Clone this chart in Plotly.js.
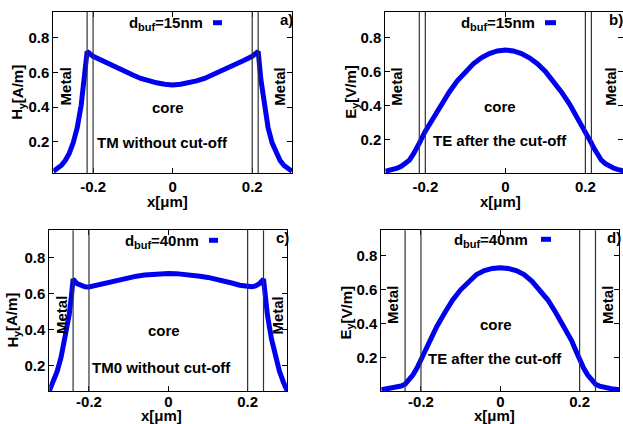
<!DOCTYPE html>
<html><head><meta charset="utf-8">
<script src="https://cdn.plot.ly/plotly-3.0.1.min.js"></script>
<style>html,body{margin:0;padding:0;background:#fff}#plot{width:623px;height:424px}</style>
</head><body><div id="plot"></div>
<script>
// ---- data ----
const xA = [-0.3,-0.29,-0.28,-0.27,-0.26,-0.25,-0.24,-0.23,-0.222,-0.215,-0.2,-0.18,-0.16,-0.14,-0.12,-0.1,-0.08,-0.06,-0.04,-0.02,0,
            0.02,0.04,0.06,0.08,0.1,0.12,0.14,0.16,0.18,0.2,0.215,0.222,0.23,0.24,0.25,0.26,0.27,0.28,0.29,0.3];
const yA = [0.03,0.043,0.063,0.092,0.133,0.194,0.28,0.41,0.555,0.72,0.693,0.67,0.647,0.625,0.603,0.585,0.565,0.551,0.54,0.532,0.528,
            0.532,0.54,0.551,0.565,0.585,0.603,0.625,0.647,0.67,0.693,0.72,0.555,0.41,0.28,0.194,0.133,0.092,0.063,0.043,0.03];

const xB = [-0.3,-0.29,-0.28,-0.27,-0.26,-0.25,-0.24,-0.23,-0.22,-0.215,-0.2,-0.19,-0.18,-0.17,-0.16,-0.14,-0.12,-0.1,-0.08,-0.06,-0.04,-0.02,0,
            0.02,0.04,0.06,0.08,0.1,0.12,0.14,0.16,0.17,0.18,0.19,0.2,0.215,0.22,0.23,0.24,0.25,0.26,0.27,0.28,0.29,0.3];
const yB = [0.015,0.02,0.026,0.034,0.044,0.06,0.08,0.115,0.155,0.18,0.25,0.29,0.33,0.37,0.41,0.48,0.545,0.6,0.645,0.68,0.705,0.72,0.725,
            0.72,0.705,0.68,0.645,0.6,0.545,0.48,0.41,0.37,0.33,0.29,0.25,0.18,0.155,0.115,0.08,0.06,0.044,0.034,0.026,0.02,0.015];

const xC = [-0.3,-0.29,-0.28,-0.27,-0.26,-0.25,-0.245,-0.24,-0.23,-0.22,-0.21,-0.2,-0.18,-0.16,-0.14,-0.12,-0.1,-0.08,-0.06,-0.04,-0.02,0,
            0.02,0.04,0.06,0.08,0.1,0.12,0.14,0.16,0.18,0.2,0.21,0.22,0.23,0.24,0.245,0.25,0.26,0.27,0.28,0.29,0.3];
const yC = [0.06,0.11,0.17,0.25,0.35,0.48,0.57,0.68,0.655,0.642,0.637,0.636,0.646,0.658,0.67,0.68,0.689,0.696,0.702,0.707,0.71,0.711,
            0.71,0.707,0.702,0.696,0.689,0.68,0.67,0.658,0.646,0.636,0.637,0.642,0.655,0.68,0.57,0.48,0.35,0.25,0.17,0.11,0.06];

const xD = [-0.3,-0.29,-0.28,-0.27,-0.26,-0.25,-0.24,-0.23,-0.22,-0.21,-0.2,-0.19,-0.18,-0.17,-0.16,-0.14,-0.12,-0.1,-0.08,-0.06,-0.04,-0.02,0,
            0.02,0.04,0.06,0.08,0.1,0.12,0.14,0.16,0.17,0.18,0.19,0.2,0.21,0.22,0.23,0.24,0.25,0.26,0.27,0.28,0.29,0.3];
const yD = [0.012,0.015,0.018,0.022,0.027,0.034,0.045,0.068,0.1,0.14,0.19,0.245,0.3,0.345,0.385,0.465,0.54,0.6,0.65,0.69,0.713,0.726,0.73,
            0.726,0.713,0.69,0.65,0.6,0.54,0.465,0.385,0.345,0.3,0.245,0.19,0.14,0.1,0.068,0.045,0.034,0.027,0.022,0.018,0.015,0.012];

const bufLines15 = [-0.215, -0.2, 0.2, 0.215];
const bufLines40 = [-0.24, -0.2, 0.2, 0.24];
const xTicks = [-0.2, 0, 0.2];
const xTickText = ['-0.2', '0', '0.2'];
const yTicks = [0.2, 0.4, 0.6, 0.8];
const yTickText = ['0.2', '0.4', '0.6', '0.8'];
// [main, subscript, rest]
const legendNames = [['d','buf','=15nm'], ['d','buf','=15nm'], ['d','buf','=40nm'], ['d','buf','=40nm']];
const yTitles = [['H','y','[A/m]'], ['E','y','[V/m]'], ['H','y','[A/m]'], ['E','y','[V/m]']];
const modeLabels = ['TM without cut-off', 'TE after the cut-off', 'TM0 without cut-off', 'TE after the cut-off'];
const panelTags = ['a)', 'b)', 'c)', 'd)'];

// ---- layout helpers ----
const W = 623, H = 424;
const FONT = 'Liberation Sans, Arial, Helvetica, sans-serif';
const BLUE = '#0000f0';
const FS = 15, SFS = 11;
const px = v => v / W;
const py = v => 1 - v / H;
const ctx = document.createElement('canvas').getContext('2d');
function tw(t, size) { ctx.font = 'bold ' + size + 'px "Liberation Sans", Arial, sans-serif'; return ctx.measureText(t).width; }

const series = [[xA, yA], [xB, yB], [xC, yC], [xD, yD]];
const traces = series.map((s, i) => ({
  x: s[0], y: s[1], type: 'scatter', mode: 'lines',
  line: {color: BLUE, width: 5},
  xaxis: 'x' + (i ? i + 1 : ''), yaxis: 'y' + (i ? i + 1 : ''),
  name: legendNames[i].join(''), showlegend: false, hoverinfo: 'skip'
}));

function axis(domain, range, tv, tt, standoff) {
  return {
    domain: domain, range: range, tickvals: tv, ticktext: tt,
    showline: true, linecolor: '#000', linewidth: 1, mirror: 'ticks',
    ticks: 'inside', ticklen: 5, tickcolor: '#000', tickwidth: 1,
    ticklabelstandoff: standoff || 0,
    showgrid: false, zeroline: false, fixedrange: true,
    tickfont: {family: FONT, size: FS, color: '#000', weight: 'bold'}
  };
}

const layout = {
  width: W, height: H, margin: {l: 0, r: 0, t: 0, b: 0},
  paper_bgcolor: '#fff', plot_bgcolor: '#fff', showlegend: false,
  font: {family: FONT, size: FS, color: '#000'},
  xaxis:  axis([px(53.3), px(292)], [-0.3, 0.3], xTicks, xTickText),
  yaxis:  axis([py(173), py(11.7)], [0.02, 0.95], yTicks, yTickText),
  xaxis2: axis([px(385.3), 1], [-0.3, 0.294], xTicks, xTickText),
  yaxis2: axis([py(173), py(11.7)], [0.005, 0.95], yTicks, yTickText),
  xaxis3: axis([px(49.3), px(287.3)], [-0.3, 0.3], xTicks, xTickText, -3),
  yaxis3: axis([py(391), py(230.3)], [0.06, 0.95], yTicks, yTickText),
  xaxis4: axis([px(381.3), px(619.3)], [-0.3, 0.3], xTicks, xTickText, -3),
  yaxis4: axis([py(391), py(230.3)], [0.005, 0.95], yTicks, yTickText),
  shapes: [], annotations: []
};
['yaxis','yaxis2','yaxis3','yaxis4'].forEach((k, i) => { layout[k].anchor = 'x' + (i ? i + 1 : ''); });
['xaxis','xaxis2','xaxis3','xaxis4'].forEach((k, i) => { layout[k].anchor = 'y' + (i ? i + 1 : ''); });

// buffer/metal boundary lines
[bufLines15, bufLines15, bufLines40, bufLines40].forEach((lines, i) => {
  const xr = 'x' + (i ? i + 1 : ''), yr = 'y' + (i ? i + 1 : '') + ' domain';
  lines.forEach(v => layout.shapes.push({
    type: 'line', xref: xr, yref: yr, x0: v, x1: v, y0: 0, y1: 1,
    line: {color: '#333', width: 1.2}
  }));
});

function ann(x, y, text, extra, size) {
  layout.annotations.push(Object.assign({
    xref: 'paper', yref: 'paper', x: px(x), y: py(y), text: text,
    showarrow: false, xanchor: 'center', yanchor: 'middle',
    borderpad: 0, borderwidth: 0,
    font: {family: FONT, size: size || FS, color: '#000', weight: 'bold'}
  }, extra || {}));
}
// horizontal text with subscript, centred at (cx, cy)
function subH(cx, cy, parts) {
  const w0 = tw(parts[0], FS), w1 = tw(parts[1], SFS), w2 = tw(parts[2], FS);
  const x0 = cx - (w0 + w1 + w2) / 2;
  ann(x0, cy, parts[0], {xanchor: 'left'});
  ann(x0 + w0, cy + 4.5, parts[1], {xanchor: 'left'}, SFS);
  ann(x0 + w0 + w1, cy, parts[2], {xanchor: 'left'});
}
// vertical (rotated -90) text with subscript, centred at (cx, cy)
function subV(cx, cy, parts) {
  const w0 = tw(parts[0], FS), w1 = tw(parts[1], SFS), w2 = tw(parts[2], FS);
  const yb = cy + (w0 + w1 + w2) / 2;
  ann(cx, yb, parts[0], {textangle: -90, yanchor: 'bottom'});
  ann(cx + 4.5, yb - w0, parts[1], {textangle: -90, yanchor: 'bottom'}, SFS);
  ann(cx, yb - w0 - w1, parts[2], {textangle: -90, yanchor: 'bottom'});
}

// per-panel text positions (pixels)
const P = [
  {yt:[17,92.5], xt:[167,202], lg:[166,22.7], ls:[213,222], tag:[286,20], m1:[65.7,86.7], m2:[280,86.7], core:[168,107.3], mode:[162,142.7]},
  {yt:[350.3,91.7], xt:[500,202], lg:[497.7,22.7], ls:[545,556], tag:[616,20], m1:[397,86.7], m2:[611,86.7], core:[500,106.7], mode:[499.7,140]},
  {yt:[12,320.3], xt:[161.7,415], lg:[161.7,240.3], ls:[209,218], tag:[282.5,237], m1:[61.7,315.3], m2:[277.3,315.3], core:[164,330.3], mode:[161.7,367]},
  {yt:[346,312.7], xt:[494,415], lg:[491,239.3], ls:[541,551], tag:[613.5,237], m1:[392.7,305.3], m2:[607.7,305.3], core:[496.3,324.7], mode:[495,358]}
];
P.forEach((p, i) => {
  subV(p.yt[0], p.yt[1], yTitles[i]);
  ann(p.xt[0], p.xt[1], 'x[μm]');
  subH(p.lg[0], p.lg[1], legendNames[i]);
  ann(p.tag[0], p.tag[1], panelTags[i]);
  ann(p.m1[0], p.m1[1], 'Metal', {textangle: -90});
  ann(p.m2[0], p.m2[1], 'Metal', {textangle: -90});
  ann(p.core[0], p.core[1], 'core');
  ann(p.mode[0], p.mode[1], modeLabels[i]);
  layout.shapes.push({type: 'line', xref: 'paper', yref: 'paper',
    x0: px(p.ls[0]), x1: px(p.ls[1]), y0: py(p.lg[1]), y1: py(p.lg[1]),
    line: {color: BLUE, width: 5}});
});

Plotly.newPlot('plot', traces, layout, {displayModeBar: false, staticPlot: true});
</script>
</body></html>
